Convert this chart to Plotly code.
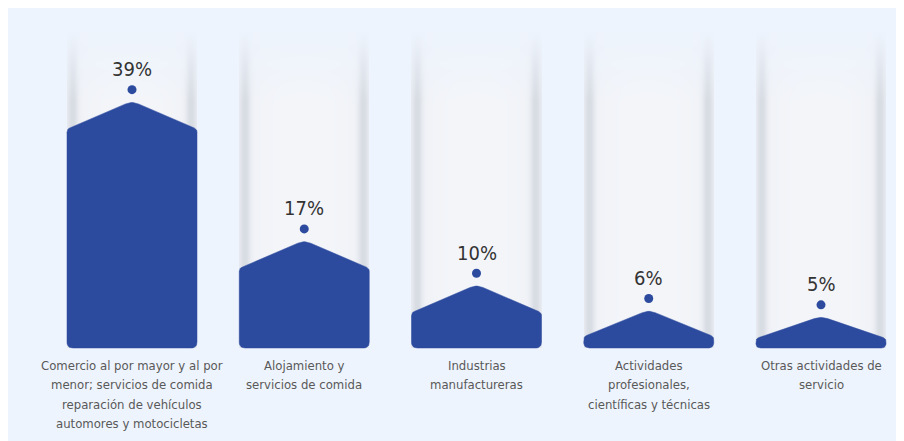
import base64
import struct
import zlib

import numpy as np
import plotly.graph_objects as go

# ---------------- data ----------------
categories = [
    "Comercio al por mayor y al por<br>menor; servicios de comida<br>reparación de vehículos<br>automores y motocicletas",
    "Alojamiento y<br>servicios de comida",
    "Industrias<br>manufactureras",
    "Actividades<br>profesionales,<br>científicas y técnicas",
    "Otras actividades de<br>servicio",
]
values = [39, 17, 10, 6, 5]
value_labels = ["39%", "17%", "10%", "6%", "5%"]

# ---------------- style / geometry ----------------
# the page body keeps its default 8px margin, so the figure is 8px smaller
W, H = 896, 433
BAR_COLOR = "#2C4A9E"
PANEL = np.array([238, 244, 253], dtype=float)
PANEL_HEX = "#EEF4FD"
COL_CENTER = np.array([244, 246, 250], dtype=float)
COL_EDGE = np.array([216, 220, 227], dtype=float)
FONT = "DejaVu Sans Condensed, Liberation Sans Narrow, sans-serif"

PX_PER_X = 172.25          # pixels per category step
FIRST_CENTER_PX = 124.0
PX_PER_PCT = 6.33          # pixels per percentage point
BASE_FROM_TOP = 340.0      # pixel row of the bar baseline
BAR_W_PX = 130.0
ROOF_PX = 28.0
LABEL_LINE_PX = 19.5

xmin = -FIRST_CENTER_PX / PX_PER_X
xmax = xmin + W / PX_PER_X
ymin = -(H - BASE_FROM_TOP) / PX_PER_PCT
ymax = ymin + H / PX_PER_PCT


# ---------------- background decoration (shaded columns) ----------------
def make_background():
    img = np.zeros((H, W, 3), dtype=float) + PANEL
    xs = np.arange(W) + 0.5
    ys = np.arange(H) + 0.5
    a_y = np.clip((ys - 24.0) / 70.0, 0, 1)
    a_y[ys > BASE_FROM_TOP] = 0
    for i in range(len(values)):
        c = (i - xmin) * PX_PER_X
        L, R = c - BAR_W_PX / 2, c + BAR_W_PX / 2
        inside = (xs >= L) & (xs <= R)
        d = np.minimum(xs - L, R - xs)
        edge = np.exp(-(((d - 6.0) / 5.0) ** 2)) * 0.85 + np.exp(-d / 18.0) * 0.25
        edge = np.clip(edge, 0, 1)
        col = COL_CENTER[None, :] * (1 - edge[:, None]) + COL_EDGE[None, :] * edge[:, None]
        for yi in range(H):
            a = a_y[yi]
            if a <= 0:
                continue
            row = img[yi]
            row[inside] = row[inside] * (1 - a) + col[inside] * a
    return img.astype(np.uint8)


def png_data_uri(arr):
    h, w, _ = arr.shape
    raw = b"".join(b"\x00" + arr[r].tobytes() for r in range(h))

    def chunk(tag, data):
        c = struct.pack(">I", len(data)) + tag + data
        return c + struct.pack(">I", zlib.crc32(tag + data) & 0xFFFFFFFF)

    png = b"\x89PNG\r\n\x1a\n"
    png += chunk(b"IHDR", struct.pack(">IIBBBBB", w, h, 8, 2, 0, 0, 0))
    png += chunk(b"IDAT", zlib.compress(raw, 9))
    png += chunk(b"IEND", b"")
    return "data:image/png;base64," + base64.b64encode(png).decode()


# ---------------- house-shaped bar outline with rounded corners ----------------
def rounded_path(pts, radii, n=8):
    out = []
    m = len(pts)
    for k in range(m):
        p = np.array(pts[k], dtype=float)
        a = np.array(pts[k - 1], dtype=float)
        b = np.array(pts[(k + 1) % m], dtype=float)
        r = radii[k]
        da, db = a - p, b - p
        la, lb = np.linalg.norm(da), np.linalg.norm(db)
        r = min(r, la / 2, lb / 2)
        p0 = p + da / la * r
        p1 = p + db / lb * r
        for t in np.linspace(0, 1, n):
            q = (1 - t) ** 2 * p0 + 2 * (1 - t) * t * p + t ** 2 * p1
            out.append(q)
    out.append(out[0])
    return np.array(out)


fig = go.Figure()

for i, v in enumerate(values):
    # work in pixel space for even rounding, then convert back to data units
    c_px = i * PX_PER_X
    h_px = v * PX_PER_PCT
    roof = min(ROOF_PX, 0.7 * h_px)
    L, R = c_px - BAR_W_PX / 2, c_px + BAR_W_PX / 2
    pts = [(L, 0), (L, h_px - roof), (c_px, h_px), (R, h_px - roof), (R, 0)]
    radii = [6, 3, 7, 3, 6]
    poly = rounded_path(pts, radii)
    fig.add_trace(go.Scatter(
        x=poly[:, 0] / PX_PER_X, y=poly[:, 1] / PX_PER_PCT,
        mode="lines", fill="toself", fillcolor=BAR_COLOR,
        line=dict(color=BAR_COLOR, width=0.5),
        hoverinfo="skip", showlegend=False,
    ))

# dots above the apex
dot_offset = 11.5 / PX_PER_PCT
fig.add_trace(go.Scatter(
    x=list(range(len(values))), y=[v + dot_offset for v in values],
    mode="markers", marker=dict(color=BAR_COLOR, size=9),
    hoverinfo="skip", showlegend=False,
))

annotations = []
for i, (v, lab) in enumerate(zip(values, value_labels)):
    annotations.append(dict(
        x=i, y=v, xref="x", yref="y", text=lab, showarrow=False,
        yanchor="middle", yshift=32,
        font=dict(family=FONT, size=20, color="#333333"),
    ))
for i, cat in enumerate(categories):
    for k, line in enumerate(cat.split("<br>")):
        annotations.append(dict(
            x=i, y=0, xref="x", yref="y", text=line, showarrow=False,
            yanchor="middle", yshift=-(17 + k * LABEL_LINE_PX), align="center",
            font=dict(family=FONT, size=13, color="#595959"),
        ))

fig.update_layout(
    width=W, height=H,
    margin=dict(l=0, r=0, t=0, b=0),
    paper_bgcolor=PANEL_HEX, plot_bgcolor="rgba(0,0,0,0)",
    xaxis=dict(range=[xmin, xmax], visible=False, fixedrange=True),
    yaxis=dict(range=[ymin, ymax], visible=False, fixedrange=True),
    annotations=annotations,
    images=[dict(
        source=png_data_uri(make_background()), xref="paper", yref="paper",
        x=0, y=1, sizex=1, sizey=1, xanchor="left", yanchor="top",
        sizing="stretch", layer="below",
    )],
    showlegend=False,
)

fig.write_html("out.html")
